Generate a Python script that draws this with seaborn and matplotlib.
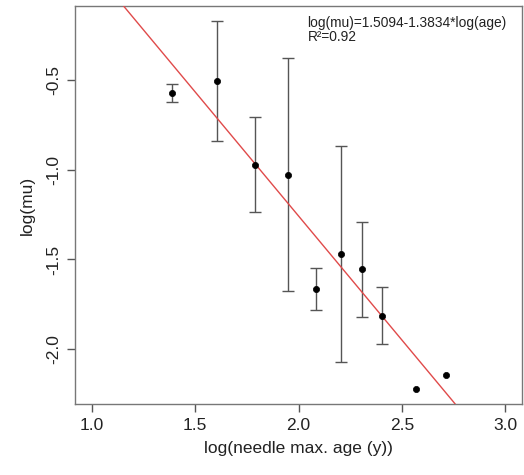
import numpy as np
import pandas as pd
import matplotlib
matplotlib.use("Agg")
import matplotlib.pyplot as plt
import seaborn as sns

# data
log_age = [1.388, 1.607, 1.789, 1.950, 2.084, 2.203, 2.307, 2.404, 2.567, 2.712]
log_mu = [-0.574, -0.504, -0.971, -1.027, -1.665, -1.470, -1.552, -1.813, -2.223, -2.143]
err_hi = [-0.522, -0.170, -0.708, -0.378, -1.546, -0.867, -1.290, -1.654, np.nan, np.nan]
err_lo = [-0.624, -0.841, -1.233, -1.678, -1.784, -2.073, -1.819, -1.971, np.nan, np.nan]
intercept = 1.5094
slope = -1.3834
x_ticks = [1.0, 1.5, 2.0, 2.5, 3.0]
y_ticks = [-2.0, -1.5, -1.0, -0.5]

df = pd.DataFrame({"x": log_age, "y": log_mu, "hi": err_hi, "lo": err_lo})

sns.set_style("white")
plt.rcParams["font.family"] = ["Liberation Sans", "DejaVu Sans"]

fig = plt.figure(figsize=(5.24, 4.75), dpi=100)
ax = fig.add_axes([75 / 524, 71 / 475, 447 / 524, 398 / 475])

# error bars
eb = df.dropna()
ax.errorbar(eb["x"], eb["y"], yerr=[eb["y"] - eb["lo"], eb["hi"] - eb["y"]],
            fmt="none", ecolor="#555555", elinewidth=1.0, capsize=4, capthick=1.0, zorder=2)

# regression line
ax.axline((0, intercept), slope=slope, color="#e04a4a", lw=1.0, zorder=3)

sns.scatterplot(data=df, x="x", y="y", ax=ax, color="black", s=20,
                edgecolor="black", linewidth=0.5, zorder=4, legend=False)

ax.set_xlim(0.92, 3.08)
ax.set_ylim(-2.305, -0.088)
ax.set_xticks(x_ticks)
ax.set_xticklabels([f"{t:.1f}" for t in x_ticks])
ax.set_yticks(y_ticks)
ax.set_yticklabels([f"{t:.1f}" for t in y_ticks], rotation=90, va="center")
ax.tick_params(axis="both", direction="out", length=6, width=1, color="#555555",
               labelsize=12.5, pad=4, labelcolor="#222222", bottom=True, left=True)
for sp in ax.spines.values():
    sp.set_color("#777777")
    sp.set_linewidth(1.0)
    sp.set_visible(True)

ax.set_xlabel("log(needle max. age (y))", fontsize=12.5, color="#222222", labelpad=6)
ax.set_ylabel("log(mu)", fontsize=12.5, color="#222222", labelpad=8)

ax.text(0.52, 0.975, "log(mu)=1.5094-1.3834*log(age)\nR²=0.92", transform=ax.transAxes,
        fontsize=9.9, va="top", ha="left", color="#222222", linespacing=1.0)

fig.savefig("out.png", dpi=100)
